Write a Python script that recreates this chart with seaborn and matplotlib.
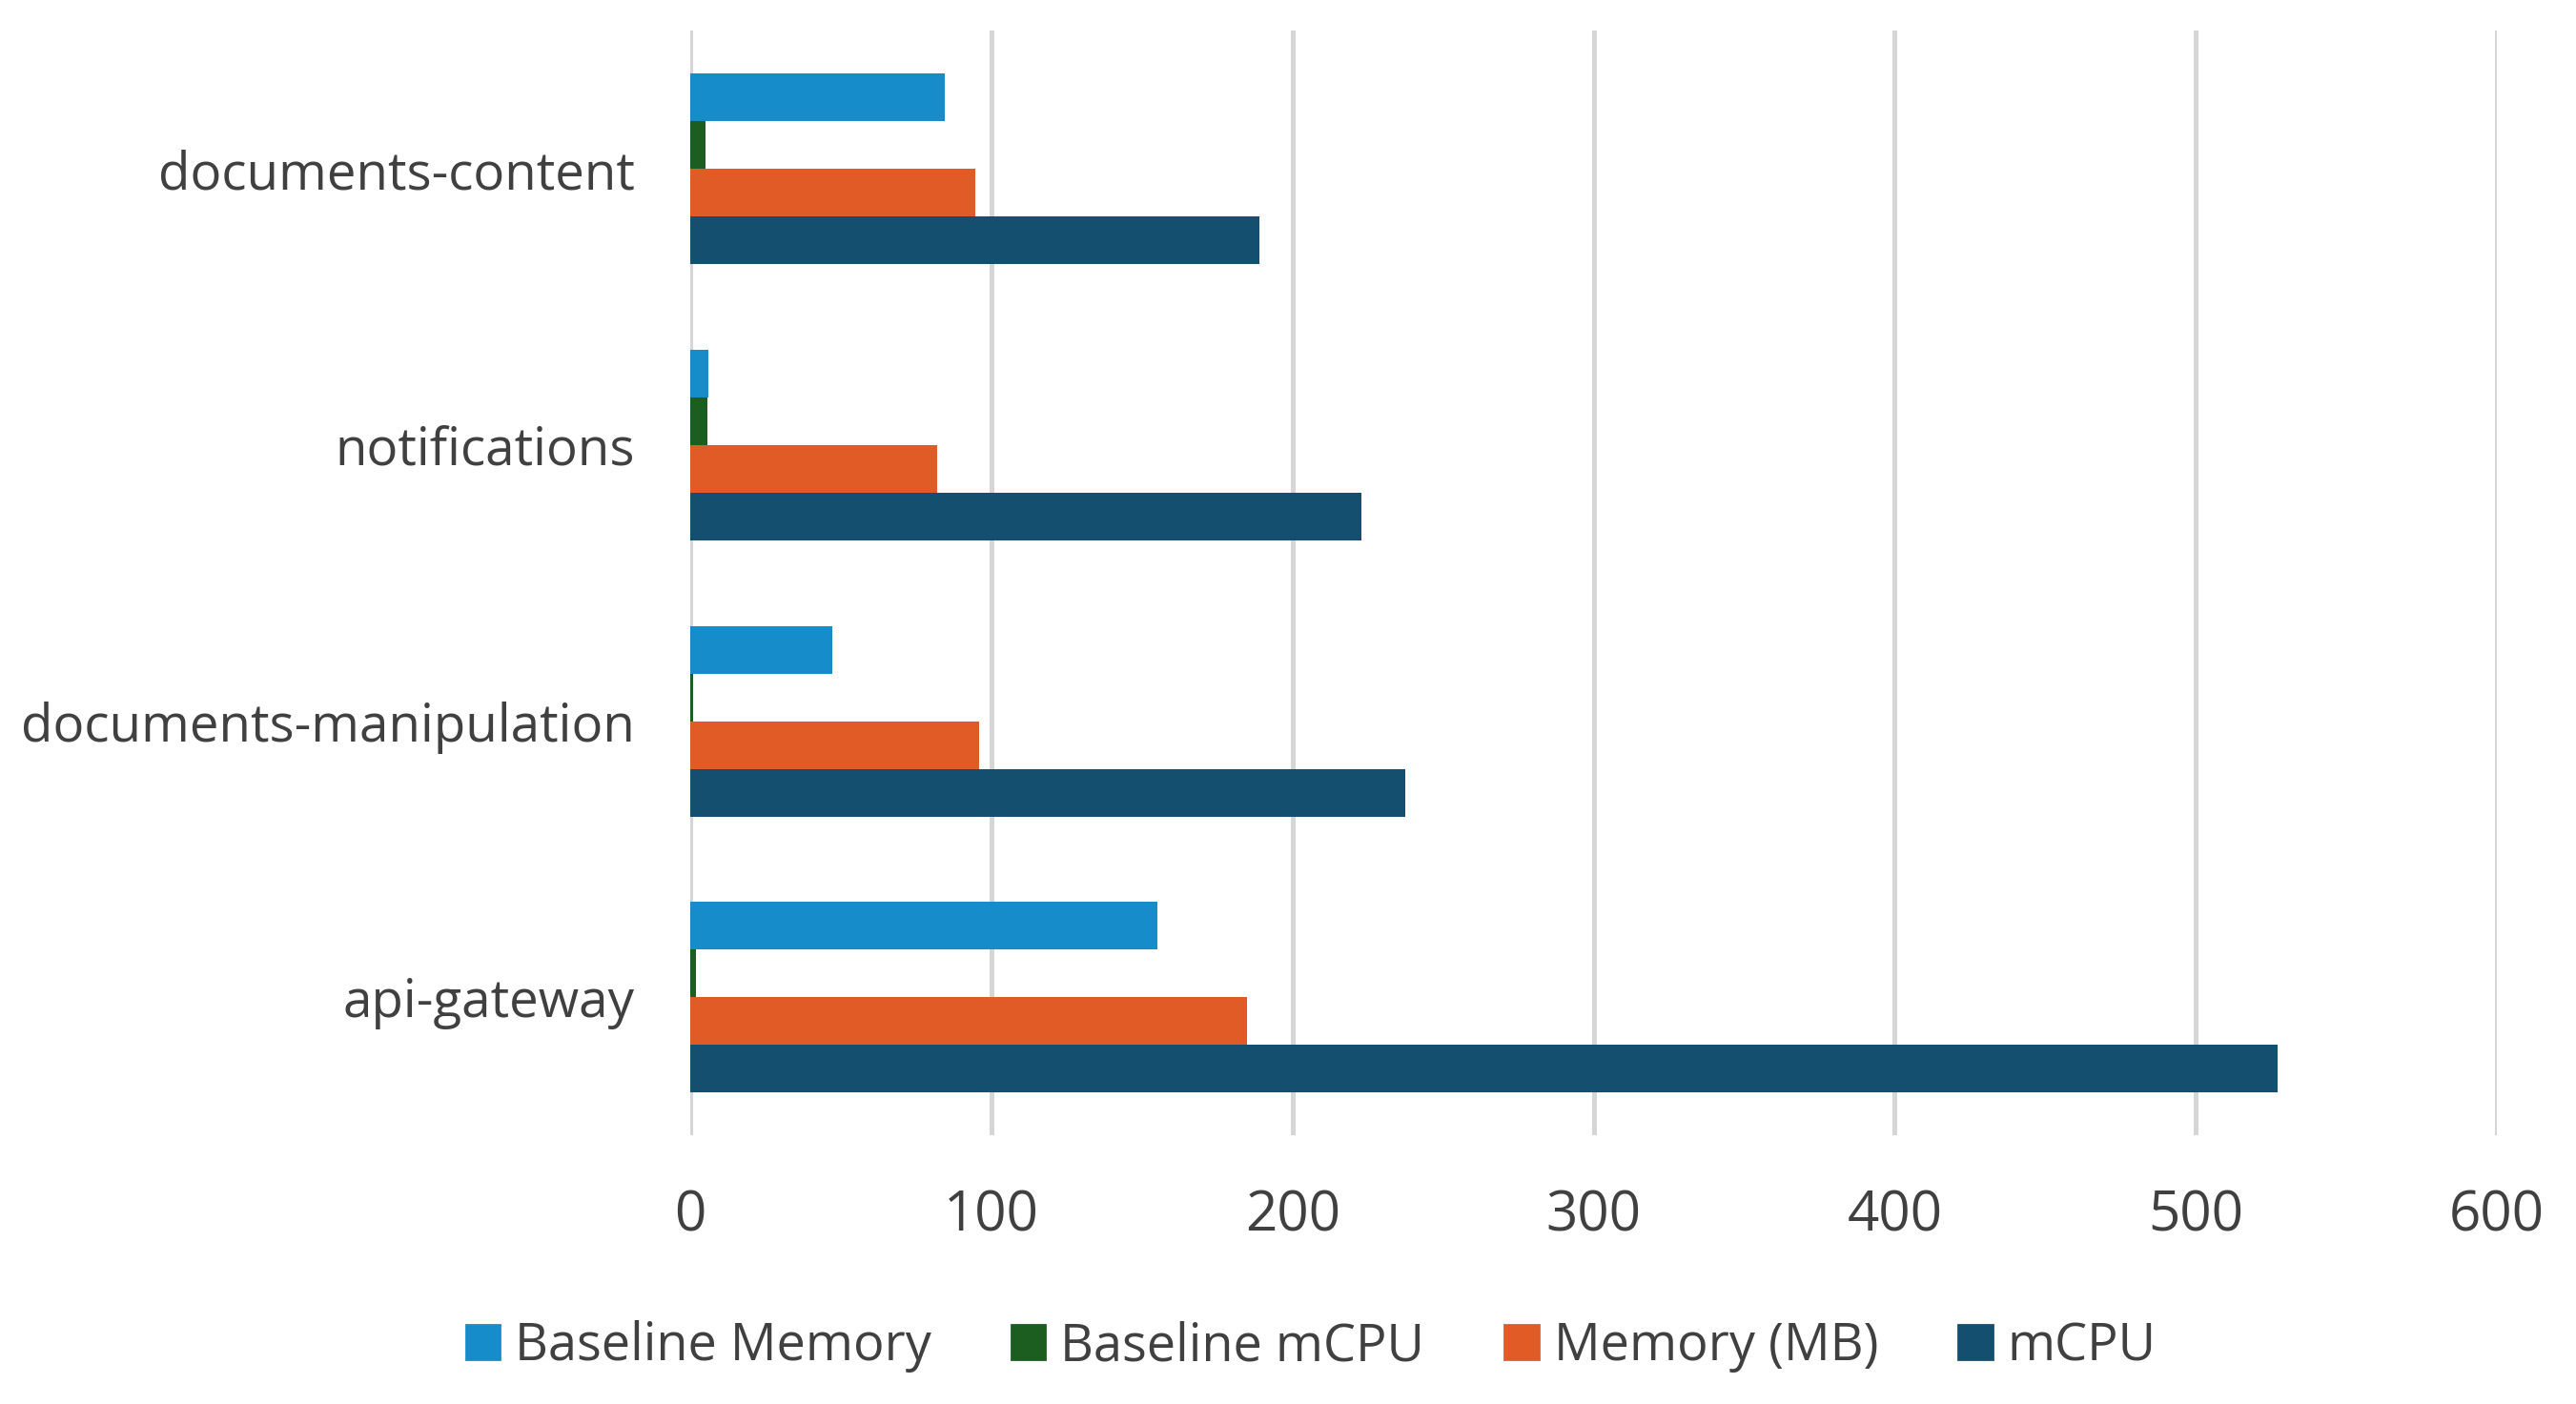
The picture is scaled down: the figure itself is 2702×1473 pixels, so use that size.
import pandas as pd
import numpy as np
import matplotlib
matplotlib.use('Agg')
import matplotlib.pyplot as plt
import seaborn as sns

# ── Data ─────────────────────────────────────────────────────
services = ['documents-content', 'notifications', 'documents-manipulation', 'api-gateway']
baseline_memory = [84.5, 6, 47, 155]
baseline_mcpu   = [5, 5.5, 1, 2]
memory_mb       = [94.5, 82, 96, 185]
mcpu            = [189, 223, 237.5, 527]

series_names = ['Baseline Memory', 'Baseline mCPU', 'Memory (MB)', 'mCPU']
colors = ['#168CCA', '#1B5E20', '#E15B27', '#154F70']
x_ticks = [0, 100, 200, 300, 400, 500, 600]

df = pd.DataFrame({
    'service': services * 4,
    'series': np.repeat(series_names, len(services)),
    'value': baseline_memory + baseline_mcpu + memory_mb + mcpu,
})

# ── Plot ─────────────────────────────────────────────────────
sns.set_theme(style='white')
plt.rcParams['font.family'] = ['Open Sans', 'DejaVu Sans']

fig = plt.figure(figsize=(13.51, 7.365), dpi=200)
ax = fig.add_axes([0.268, 0.1914, 0.7013, 0.7866])

sns.barplot(data=df, y='service', x='value', hue='series',
            order=services, hue_order=series_names,
            palette=dict(zip(series_names, colors)),
            orient='h', width=0.69, saturation=1,
            linewidth=0, ax=ax)

ax.set_xlim(0, 600)
ax.set_ylim(3.5, -0.5)
ax.set_xticks(x_ticks)
ax.set_xticklabels([str(t) for t in x_ticks])
ax.xaxis.grid(True, color='#D6D6D6', linewidth=1.8)
ax.yaxis.grid(False)
ax.set_axisbelow(True)
for s in ax.spines.values():
    s.set_visible(False)
ax.set_xlabel('')
ax.set_ylabel('')
ax.tick_params(axis='x', length=0, pad=20, labelsize=21, labelcolor='#404040')
ax.tick_params(axis='y', length=0, pad=21, labelsize=19.7, labelcolor='#404040')

ax.get_legend().remove()
handles = [plt.Rectangle((0, 0), 1, 1, color=c) for c in colors]
fig.legend(handles, series_names, loc='center', bbox_to_anchor=(0.509, 0.041),
           ncol=4, frameon=False, fontsize=19.5, labelcolor='#404040',
           handlelength=0.65, handleheight=0.65, handletextpad=0.3,
           columnspacing=1.55)

plt.savefig('out.png', dpi=200)
